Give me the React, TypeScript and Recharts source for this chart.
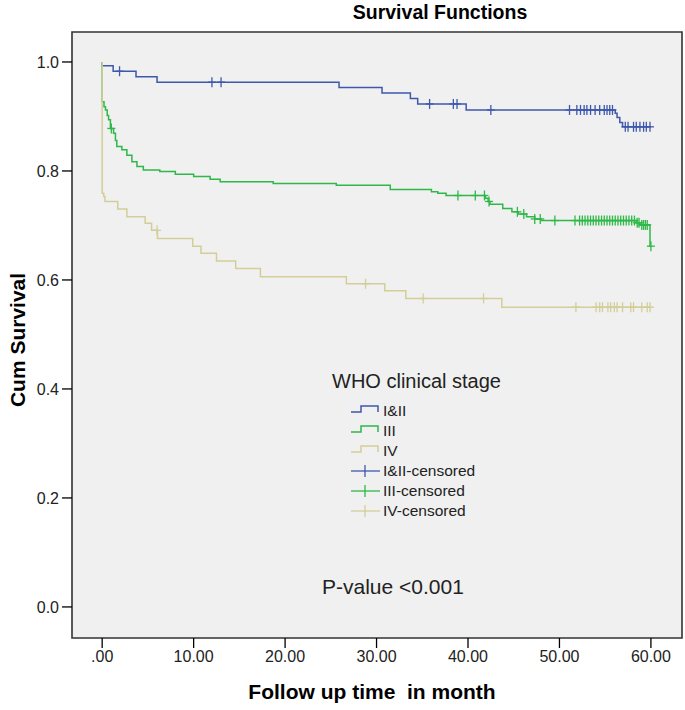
import React from 'react';
import { ComposedChart, Line, Scatter, XAxis, YAxis, CartesianGrid, ReferenceArea } from 'recharts';

// ---- Data ----
const stage12Curve = [
  { t: 0, s: 1.0 }, { t: 0, s: 0.993 }, { t: 1.2, s: 0.983 }, { t: 3.7, s: 0.973 },
  { t: 6.0, s: 0.963 }, { t: 25.9, s: 0.953 }, { t: 30.6, s: 0.943 }, { t: 33.7, s: 0.933 },
  { t: 34.5, s: 0.923 }, { t: 39.8, s: 0.912 }, { t: 56.1, s: 0.906 }, { t: 56.3, s: 0.898 },
  { t: 56.6, s: 0.889 }, { t: 56.9, s: 0.881 }, { t: 60, s: 0.881 },
];
const stage12Censored = [1.9, 12.0, 13.0, 35.8, 38.4, 38.8, 42.5, 51.1, 51.9, 52.3, 52.7, 53.0, 53.4,
  53.9, 54.4, 54.9, 55.2, 55.5, 55.8, 57.2, 57.5, 58.1, 58.4, 58.8, 59.2, 59.5, 59.9];

const stage3Curve = [
  { t: 0, s: 1.0 }, { t: 0, s: 0.927 }, { t: 0.2, s: 0.918 }, { t: 0.36, s: 0.912 }, { t: 0.55, s: 0.902 },
  { t: 0.7, s: 0.894 }, { t: 0.9, s: 0.878 }, { t: 1.24, s: 0.869 }, { t: 1.45, s: 0.856 }, { t: 1.6, s: 0.845 },
  { t: 2.15, s: 0.839 }, { t: 2.7, s: 0.829 }, { t: 3.25, s: 0.817 }, { t: 3.8, s: 0.808 },
  { t: 4.5, s: 0.802 }, { t: 6.3, s: 0.799 }, { t: 8.0, s: 0.794 }, { t: 10.0, s: 0.79 },
  { t: 11.8, s: 0.785 }, { t: 12.9, s: 0.78 }, { t: 18.7, s: 0.777 }, { t: 25.6, s: 0.774 },
  { t: 31.5, s: 0.766 }, { t: 36.0, s: 0.762 }, { t: 36.7, s: 0.759 }, { t: 37.6, s: 0.755 },
  { t: 41.9, s: 0.75 }, { t: 42.2, s: 0.744 }, { t: 42.4, s: 0.739 }, { t: 43.8, s: 0.731 },
  { t: 44.8, s: 0.725 }, { t: 45.5, s: 0.721 }, { t: 46.4, s: 0.716 }, { t: 47.3, s: 0.712 },
  { t: 48.0, s: 0.709 }, { t: 58.4, s: 0.705 }, { t: 58.8, s: 0.701 }, { t: 59.9, s: 0.662 },
  { t: 60, s: 0.662 },
];
const stage3Censored = [1.0, 38.9, 40.8, 41.8, 42.3, 45.4, 46.1, 47.3, 47.9, 49.5, 51.7, 52.2, 52.5,
  52.8, 53.1, 53.4, 53.7, 54.0, 54.3, 54.6, 54.9, 55.2, 55.5, 55.8, 56.1, 56.4, 56.7, 57.0, 57.3,
  57.6, 57.9, 58.2, 58.5, 58.7, 59.0, 59.2, 59.4, 59.6, 60.0];

const stage4Curve = [
  { t: 0, s: 1.0 }, { t: 0, s: 0.759 }, { t: 0.17, s: 0.753 }, { t: 0.3, s: 0.744 },
  { t: 1.7, s: 0.73 }, { t: 2.7, s: 0.716 }, { t: 4.7, s: 0.704 }, { t: 5.4, s: 0.691 },
  { t: 6.05, s: 0.676 }, { t: 9.9, s: 0.662 }, { t: 10.8, s: 0.649 }, { t: 12.5, s: 0.635 },
  { t: 14.6, s: 0.621 }, { t: 17.3, s: 0.606 }, { t: 26.7, s: 0.593 }, { t: 30.9, s: 0.58 },
  { t: 33.2, s: 0.566 }, { t: 43.7, s: 0.55 }, { t: 60, s: 0.55 },
];
const stage4Censored = [6.0, 28.8, 35.1, 41.7, 51.8, 54.0, 54.4, 54.7, 55.3, 55.6, 56.0, 56.3, 56.9,
  57.8, 58.1, 59.0, 59.6, 59.9];

const xTicks = [0, 10, 20, 30, 40, 50, 60];
const xTickLabels = ['.00', '10.00', '20.00', '30.00', '40.00', '50.00', '60.00'];
const yTicks = [0, 0.2, 0.4, 0.6, 0.8, 1.0];
const yTickLabels = ['0.0', '0.2', '0.4', '0.6', '0.8', '1.0'];

const seriesNames = ['I&II', 'III', 'IV'];
const censoredNames = ['I&II-censored', 'III-censored', 'IV-censored'];
const colors = ['#3e58ac', '#2eb848', '#d3ce97'];

// ---- helpers ----
const survAt = (curve: { t: number; s: number }[], t: number) => {
  let s = curve[0].s;
  for (const p of curve) if (p.t <= t) s = p.s;
  return s;
};
const censorPoints = (curve: { t: number; s: number }[], times: number[]) =>
  times.map((t) => ({ t, s: survAt(curve, t) }));

const curves = [stage12Curve, stage3Curve, stage4Curve];
const censors = [
  censorPoints(stage12Curve, stage12Censored),
  censorPoints(stage3Curve, stage3Censored),
  censorPoints(stage4Curve, stage4Censored),
];

const X_DOMAIN: [number, number] = [-3.3, 63.4];
const Y_DOMAIN: [number, number] = [-0.057, 1.055];

const FONT = '"Liberation Sans", Arial, Helvetica, sans-serif';

const makeCross = (color: string) => (props: any) => {
  const { cx, cy } = props;
  if (cx == null || cy == null) return <g />;
  return (
    <g stroke={color} strokeWidth={1.3}>
      <line x1={cx - 4} x2={cx + 4} y1={cy} y2={cy} />
      <line x1={cx} x2={cx} y1={cy - 5} y2={cy + 5} />
    </g>
  );
};

const abs = (extra: React.CSSProperties): React.CSSProperties => ({
  position: 'absolute',
  whiteSpace: 'nowrap',
  fontFamily: FONT,
  color: '#000',
  lineHeight: 1,
  ...extra,
});

const LegendBox = () => {
  const rows = [...seriesNames, ...censoredNames];
  return (
    <div style={abs({ left: 332, top: 371 })}>
      <div style={{ fontSize: 20, color: '#222', height: 24 }}>WHO clinical stage</div>
      <div style={{ marginLeft: 19, marginTop: 6 }}>
        {rows.map((name, i) => {
          const c = colors[i % 3];
          const censored = i >= 3;
          return (
            <div key={name} style={{ display: 'flex', alignItems: 'center', height: 20 }}>
              <svg width={32} height={20} style={{ display: 'block' }}>
                {censored ? (
                  <g stroke={c} strokeWidth={1.3}>
                    <line x1={0} x2={29} y1={10} y2={10} />
                    <line x1={14} x2={14} y1={4} y2={16} />
                  </g>
                ) : (
                  <path d="M0 11 H10 V5 H27 V11" fill="none" stroke={c} strokeWidth={1.5} />
                )}
              </svg>
              <span style={{ fontSize: 15.5, color: '#222' }}>{name}</span>
            </div>
          );
        })}
      </div>
    </div>
  );
};

export default function App() {
  return (
    <div style={{ position: 'absolute', left: 0, top: 0, width: 685, height: 710, background: '#fff' }}>
      <ComposedChart
        width={685}
        height={710}
        margin={{ top: 32, right: 3, left: 0, bottom: 0 }}
        style={{ fontFamily: FONT }}
      >
        <CartesianGrid horizontal={false} vertical={false} fill="#f0f0f0" />
        <XAxis
          type="number"
          dataKey="t"
          domain={X_DOMAIN}
          allowDataOverflow
          ticks={xTicks}
          tickFormatter={(v: number) => xTickLabels[xTicks.indexOf(v)] ?? ''}
          height={72}
          axisLine={false}
          tickLine={{ stroke: '#000', strokeWidth: 1.3 }}
          tickSize={10}
          tickMargin={3}
          tick={{ fill: '#222', fontSize: 16 }}
        />
        <YAxis
          type="number"
          dataKey="s"
          domain={Y_DOMAIN}
          allowDataOverflow
          ticks={yTicks}
          tickFormatter={(v: number) => yTickLabels[yTicks.indexOf(v)] ?? ''}
          width={72}
          axisLine={false}
          tickLine={{ stroke: '#000', strokeWidth: 1.3 }}
          tickSize={10}
          tickMargin={3}
          tick={{ fill: '#222', fontSize: 16 }}
        />
        {curves.map((data, i) => (
          <Line
            key={seriesNames[i]}
            data={data}
            dataKey="s"
            type="stepAfter"
            stroke={colors[i]}
            strokeWidth={1.5}
            dot={false}
            activeDot={false}
            isAnimationActive={false}
            legendType="none"
          />
        ))}
        {censors.map((data, i) => (
          <Scatter
            key={censoredNames[i]}
            data={data}
            dataKey="s"
            shape={makeCross(colors[i])}
            isAnimationActive={false}
            legendType="none"
          />
        ))}
        <ReferenceArea
          x1={X_DOMAIN[0]}
          x2={X_DOMAIN[1]}
          y1={Y_DOMAIN[0]}
          y2={Y_DOMAIN[1]}
          fill="none"
          fillOpacity={0}
          stroke="#333"
          strokeWidth={1.6}
          ifOverflow="visible"
        />
      </ComposedChart>

      <div style={abs({ left: 440, top: 3, transform: 'translateX(-50%)', fontSize: 19.5, fontWeight: 'bold' })}>
        Survival Functions
      </div>
      <div
        style={abs({
          left: 17,
          top: 340,
          transform: 'translate(-50%, -50%) rotate(-90deg)',
          fontSize: 21,
          fontWeight: 'bold',
        })}
      >
        Cum Survival
      </div>
      <div style={abs({ left: 372, top: 681, transform: 'translateX(-50%)', fontSize: 21, fontWeight: 'bold' })}>
        Follow up time&nbsp; in month
      </div>
      <LegendBox />
      <div style={abs({ left: 322, top: 576, fontSize: 21, color: '#222' })}>P-value &lt;0.001</div>
    </div>
  );
}
